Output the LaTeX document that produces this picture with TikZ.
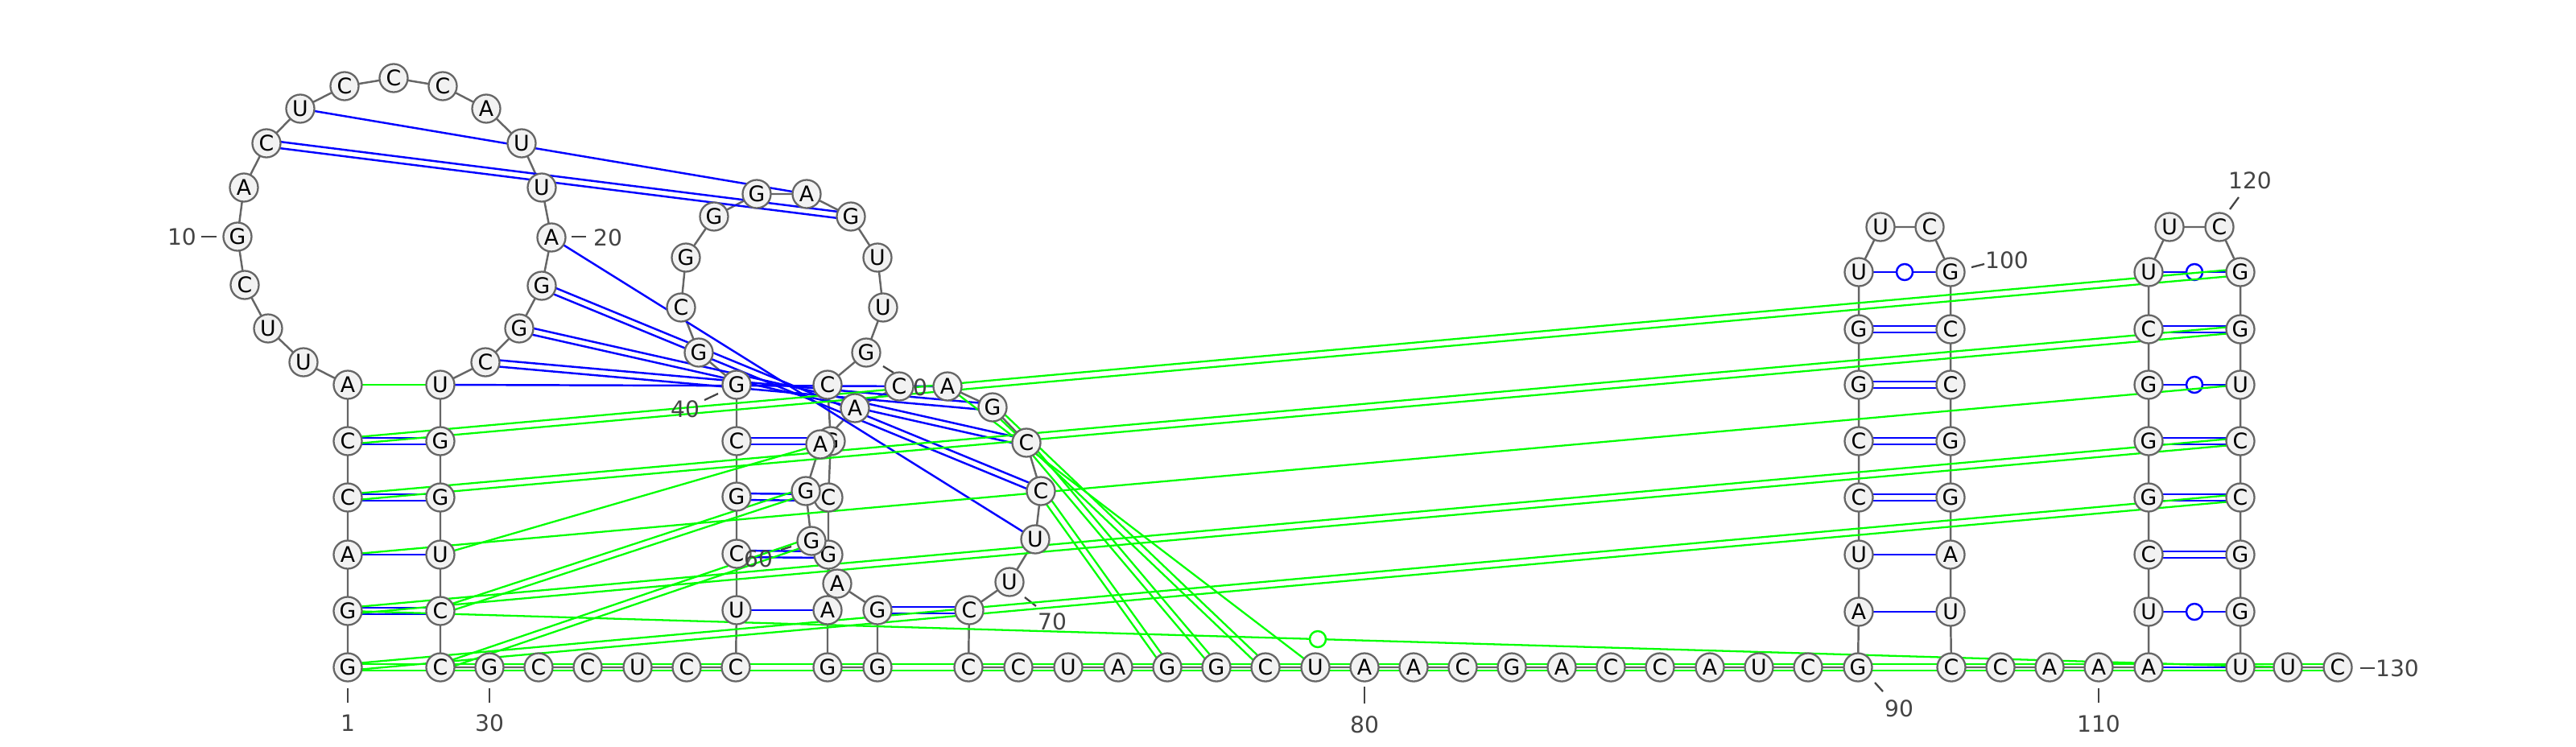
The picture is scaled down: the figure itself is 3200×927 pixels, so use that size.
\documentclass[tikz,border=0pt]{standalone}
\usepackage{fontspec}
\setmainfont{DejaVu Sans}
\usetikzlibrary{calc}
\definecolor{ntfill}{HTML}{F2F2F2}
\definecolor{ntline}{HTML}{666666}
\definecolor{numgray}{HTML}{444444}
\definecolor{pairblue}{HTML}{0000FF}
\definecolor{altgreen}{HTML}{00FF00}
\pgfdeclarelayer{background}
\pgfsetlayers{background,main}
% two parallel strokes between two nodes
\newcommand{\dbl}[3]{%
  \draw [#3] ($(#1)!0.04cm!90:(#2)$) -- ($(#2)!0.04cm!-90:(#1)$);
  \draw [#3] ($(#1)!0.04cm!-90:(#2)$) -- ($(#2)!0.04cm!90:(#1)$);}
\begin{document}
\begin{tikzpicture}[x=0.01cm, y=-0.01cm,
  nt/.style={circle, draw=ntline, fill=ntfill, line width=0.65pt, minimum size=0.35cm, inner sep=0pt, font=\fontsize{7.6}{9}\selectfont},
  num/.style={text=numgray, inner sep=0pt, font=\fontsize{8}{10}\selectfont},
  tick/.style={draw=numgray, line width=0.65pt},
  backbone/.style={draw=ntline, line width=0.7pt},
  bp/.style={draw=pairblue, line width=0.7pt},
  alt/.style={draw=altgreen, line width=0.65pt},
  gu/.style={circle, fill=white, line width=0.7pt, minimum size=0.2cm, inner sep=0pt}]
\useasboundingbox (0,0) rectangle (3200,927);
% left stem and first loop
\node [nt] (n1) at (432,829) {G};
\node [num] (l1) at (432,898) {1};
\node [nt] (n2) at (432,759) {G};
\node [nt] (n3) at (432,689) {A};
\node [nt] (n4) at (432,618) {C};
\node [nt] (n5) at (432,548) {C};
\node [nt] (n6) at (432,478) {A};
\node [nt] (n7) at (377,450) {U};
\node [nt] (n8) at (333,408) {U};
\node [nt] (n9) at (304,354) {C};
\node [nt] (n10) at (295,294) {G};
\node [num] (l10) at (226,294) {10};
\node [nt] (n11) at (303,233) {A};
\node [nt] (n12) at (331,178) {C};
\node [nt] (n13) at (373,135) {U};
\node [nt] (n14) at (428,107) {C};
\node [nt] (n15) at (489,97) {C};
\node [nt] (n16) at (550,107) {C};
\node [nt] (n17) at (604,135) {A};
\node [nt] (n18) at (648,178) {U};
\node [nt] (n19) at (673,233) {U};
\node [nt] (n20) at (685,295) {A};
\node [num] (l20) at (755,295) {20};
\node [nt] (n21) at (673,355) {G};
\node [nt] (n22) at (645,408) {G};
\node [nt] (n23) at (603,450) {C};
\node [nt] (n24) at (547,478) {U};
\node [nt] (n25) at (547,548) {G};
\node [nt] (n26) at (547,618) {G};
\node [nt] (n27) at (547,689) {U};
\node [nt] (n28) at (547,759) {C};
\node [nt] (n29) at (547,829) {C};
\node [nt] (n30) at (608,829) {G};
\node [num] (l30) at (608,898) {30};
\node [nt] (n31) at (669,829) {C};
\node [nt] (n32) at (730,829) {C};
\node [nt] (n33) at (792,829) {U};
\node [nt] (n34) at (853,829) {C};
\node [nt] (n35) at (914,829) {C};
\node [nt] (n36) at (915,758) {U};
\node [nt] (n37) at (915,688) {C};
\node [nt] (n38) at (915,617) {G};
\node [nt] (n39) at (915,548) {C};
\node [nt] (n40) at (915,478) {G};
\node [num] (l40) at (851,508) {40};
% second loop and middle
\node [nt] (n41) at (868,438) {G};
\node [nt] (n42) at (846,382) {C};
\node [nt] (n43) at (852,320) {G};
\node [nt] (n44) at (887,269) {G};
\node [nt] (n45) at (940,241) {G};
\node [nt] (n46) at (1002,241) {A};
\node [nt] (n47) at (1057,269) {G};
\node [nt] (n48) at (1090,320) {U};
\node [nt] (n49) at (1097,382) {U};
\node [nt] (n50) at (1076,438) {G};
\node [num] (l50) at (1134,481) {50};
\node [nt] (n51) at (1028,478) {C};
\node [nt] (n52) at (1032,548) {G};
\node [nt] (n53) at (1029,618) {C};
\node [nt] (n54) at (1029,689) {G};
\node [nt] (n55) at (1028,758) {A};
\node [nt] (n56) at (1028,829) {G};
\node [nt] (n57) at (1090,829) {G};
\node [nt] (n58) at (1090,758) {G};
\node [nt] (n59) at (1040,725) {A};
\node [nt] (n60) at (1008,672) {G};
\node [num] (l60) at (942,694) {60};
\node [nt] (n61) at (1001,610) {G};
\node [nt] (n62) at (1019,552) {A};
\node [nt] (n63) at (1062,507) {A};
\node [nt] (n64) at (1117,480) {C};
\node [nt] (n65) at (1177,480) {A};
\node [nt] (n66) at (1233,506) {G};
\node [nt] (n67) at (1275,550) {C};
\node [nt] (n68) at (1293,610) {C};
\node [nt] (n69) at (1286,670) {U};
\node [nt] (n70) at (1254,723) {U};
\node [num] (l70) at (1307,772) {70};
\node [nt] (n71) at (1204,758) {C};
% bottom row
\node [nt] (n72) at (1203,829) {C};
\node [nt] (n73) at (1265,829) {C};
\node [nt] (n74) at (1327,829) {U};
\node [nt] (n75) at (1389,829) {A};
\node [nt] (n76) at (1450,829) {G};
\node [nt] (n77) at (1511,829) {G};
\node [nt] (n78) at (1572,829) {C};
\node [nt] (n79) at (1634,829) {U};
\node [nt] (n80) at (1695,829) {A};
\node [num] (l80) at (1695,900) {80};
\node [nt] (n81) at (1756,829) {A};
\node [nt] (n82) at (1817,829) {C};
\node [nt] (n83) at (1878,829) {G};
\node [nt] (n84) at (1940,829) {A};
\node [nt] (n85) at (2001,829) {C};
\node [nt] (n86) at (2062,829) {C};
\node [nt] (n87) at (2124,829) {A};
\node [nt] (n88) at (2185,829) {U};
\node [nt] (n89) at (2246,829) {C};
\node [nt] (n90) at (2308,829) {G};
\node [num] (l90) at (2359,880) {90};
% first hairpin
\node [nt] (n91) at (2309,760) {A};
\node [nt] (n92) at (2309,689) {U};
\node [nt] (n93) at (2309,618) {C};
\node [nt] (n94) at (2309,548) {C};
\node [nt] (n95) at (2309,478) {G};
\node [nt] (n96) at (2309,409) {G};
\node [nt] (n97) at (2309,338) {U};
\node [nt] (n98) at (2336,282) {U};
\node [nt] (n99) at (2397,282) {C};
\node [nt] (n100) at (2423,338) {G};
\node [num] (l100) at (2493,323) {100};
\node [nt] (n101) at (2423,409) {C};
\node [nt] (n102) at (2423,478) {C};
\node [nt] (n103) at (2423,548) {G};
\node [nt] (n104) at (2423,618) {G};
\node [nt] (n105) at (2423,689) {A};
\node [nt] (n106) at (2423,760) {U};
\node [nt] (n107) at (2424,829) {C};
\node [nt] (n108) at (2485,829) {C};
\node [nt] (n109) at (2546,829) {A};
\node [nt] (n110) at (2607,829) {A};
\node [num] (l110) at (2607,899) {110};
\node [nt] (n111) at (2669,829) {A};
% second hairpin
\node [nt] (n112) at (2669,760) {U};
\node [nt] (n113) at (2669,689) {C};
\node [nt] (n114) at (2669,618) {G};
\node [nt] (n115) at (2669,548) {G};
\node [nt] (n116) at (2669,478) {G};
\node [nt] (n117) at (2669,409) {C};
\node [nt] (n118) at (2669,338) {U};
\node [nt] (n119) at (2695,282) {U};
\node [nt] (n120) at (2757,282) {C};
\node [num] (l120) at (2795,224) {120};
\node [nt] (n121) at (2783,338) {G};
\node [nt] (n122) at (2783,409) {G};
\node [nt] (n123) at (2783,478) {U};
\node [nt] (n124) at (2783,548) {C};
\node [nt] (n125) at (2783,618) {C};
\node [nt] (n126) at (2783,689) {G};
\node [nt] (n127) at (2783,760) {G};
\node [nt] (n128) at (2783,829) {U};
\node [nt] (n129) at (2842,829) {U};
\node [nt] (n130) at (2904,829) {C};
\node [num] (l130) at (2978,830) {130};
\begin{pgfonlayer}{background}
% number ticks
\draw [tick] (432,855) -- (432,873);
\draw [tick] (250,294) -- (269,294);
\draw [tick] (710,294) -- (728,294);
\draw [tick] (608,855) -- (608,873);
\draw [tick] (875,497) -- (892,489);
\draw [tick] (1097,455) -- (1110,463);
\draw [tick] (970,683) -- (983,679);
\draw [tick] (1273,742) -- (1287,753);
\draw [tick] (1695,853) -- (1695,874);
\draw [tick] (2329,848) -- (2339,859);
\draw [tick] (2449,332) -- (2465,328);
\draw [tick] (2607,855) -- (2607,873);
\draw [tick] (2770,260) -- (2781,245);
\draw [tick] (2932,830) -- (2950,830);
% backbone
\draw [backbone] (n1.center) -- (n2.center) -- (n3.center) -- (n4.center) -- (n5.center) -- (n6.center)
  -- (n7.center) -- (n8.center) -- (n9.center) -- (n10.center) -- (n11.center) -- (n12.center)
  -- (n13.center) -- (n14.center) -- (n15.center) -- (n16.center) -- (n17.center) -- (n18.center)
  -- (n19.center) -- (n20.center) -- (n21.center) -- (n22.center) -- (n23.center) -- (n24.center)
  -- (n25.center) -- (n26.center) -- (n27.center) -- (n28.center) -- (n29.center) -- (n30.center)
  -- (n31.center) -- (n32.center) -- (n33.center) -- (n34.center) -- (n35.center) -- (n36.center)
  -- (n37.center) -- (n38.center) -- (n39.center) -- (n40.center) -- (n41.center) -- (n42.center)
  -- (n43.center) -- (n44.center) -- (n45.center) -- (n46.center) -- (n47.center) -- (n48.center)
  -- (n49.center) -- (n50.center) -- (n51.center) -- (n52.center) -- (n53.center) -- (n54.center)
  -- (n55.center) -- (n56.center) -- (n57.center) -- (n58.center) -- (n59.center) -- (n60.center)
  -- (n61.center) -- (n62.center) -- (n63.center) -- (n64.center) -- (n65.center) -- (n66.center)
  -- (n67.center) -- (n68.center) -- (n69.center) -- (n70.center) -- (n71.center) -- (n72.center)
  -- (n73.center) -- (n74.center) -- (n75.center) -- (n76.center) -- (n77.center) -- (n78.center)
  -- (n79.center) -- (n80.center) -- (n81.center) -- (n82.center) -- (n83.center) -- (n84.center)
  -- (n85.center) -- (n86.center) -- (n87.center) -- (n88.center) -- (n89.center) -- (n90.center)
  -- (n91.center) -- (n92.center) -- (n93.center) -- (n94.center) -- (n95.center) -- (n96.center)
  -- (n97.center) -- (n98.center) -- (n99.center) -- (n100.center) -- (n101.center) -- (n102.center)
  -- (n103.center) -- (n104.center) -- (n105.center) -- (n106.center) -- (n107.center) -- (n108.center)
  -- (n109.center) -- (n110.center) -- (n111.center) -- (n112.center) -- (n113.center) -- (n114.center)
  -- (n115.center) -- (n116.center) -- (n117.center) -- (n118.center) -- (n119.center) -- (n120.center)
  -- (n121.center) -- (n122.center) -- (n123.center) -- (n124.center) -- (n125.center) -- (n126.center)
  -- (n127.center) -- (n128.center) -- (n129.center) -- (n130.center);
% base pairs
\dbl{n2}{n28}{bp}
\draw [bp] (n3.center) -- (n27.center);
\dbl{n4}{n26}{bp}
\dbl{n5}{n25}{bp}
\dbl{n12}{n47}{bp}
\draw [bp] (n13.center) -- (n46.center);
\draw [bp] (n20.center) -- (n69.center);
\dbl{n21}{n68}{bp}
\dbl{n22}{n67}{bp}
\dbl{n23}{n66}{bp}
\draw [bp] (n24.center) -- (n65.center);
\draw [bp] (n36.center) -- (n55.center);
\dbl{n37}{n54}{bp}
\dbl{n38}{n53}{bp}
\dbl{n39}{n52}{bp}
\dbl{n58}{n71}{bp}
\draw [bp] (n91.center) -- (n106.center);
\draw [bp] (n92.center) -- (n105.center);
\dbl{n93}{n104}{bp}
\dbl{n94}{n103}{bp}
\dbl{n95}{n102}{bp}
\dbl{n96}{n101}{bp}
\draw [bp] (n97.center) -- (n100.center) node [gu, draw=pairblue, midway] (g97) {};
\draw [bp] (n111.center) -- (n128.center);
\draw [bp] (n112.center) -- (n127.center) node [gu, draw=pairblue, midway] (g112) {};
\dbl{n113}{n126}{bp}
\dbl{n114}{n125}{bp}
\dbl{n115}{n124}{bp}
\draw [bp] (n116.center) -- (n123.center) node [gu, draw=pairblue, midway] (g116) {};
\dbl{n117}{n122}{bp}
\draw [bp] (n118.center) -- (n121.center) node [gu, draw=pairblue, midway] (g118) {};
% other pairing
\draw [alt] (n6.center) -- (n24.center);
\dbl{n5}{n121}{alt}
\dbl{n4}{n122}{alt}
\draw [alt] (n3.center) -- (n123.center);
\dbl{n2}{n124}{alt}
\dbl{n1}{n125}{alt}
\draw [alt] (n2.center) -- (n129.center) node [gu, draw=altgreen, midway] (g2) {};
\dbl{n1}{n130}{alt}
\draw [alt] (n27.center) -- (n62.center);
\dbl{n28}{n61}{alt}
\dbl{n29}{n60}{alt}
\draw [alt] (n65.center) -- (n79.center);
\dbl{n66}{n78}{alt}
\dbl{n67}{n77}{alt}
\dbl{n68}{n76}{alt}
\end{pgfonlayer}
\end{tikzpicture}
\end{document}
